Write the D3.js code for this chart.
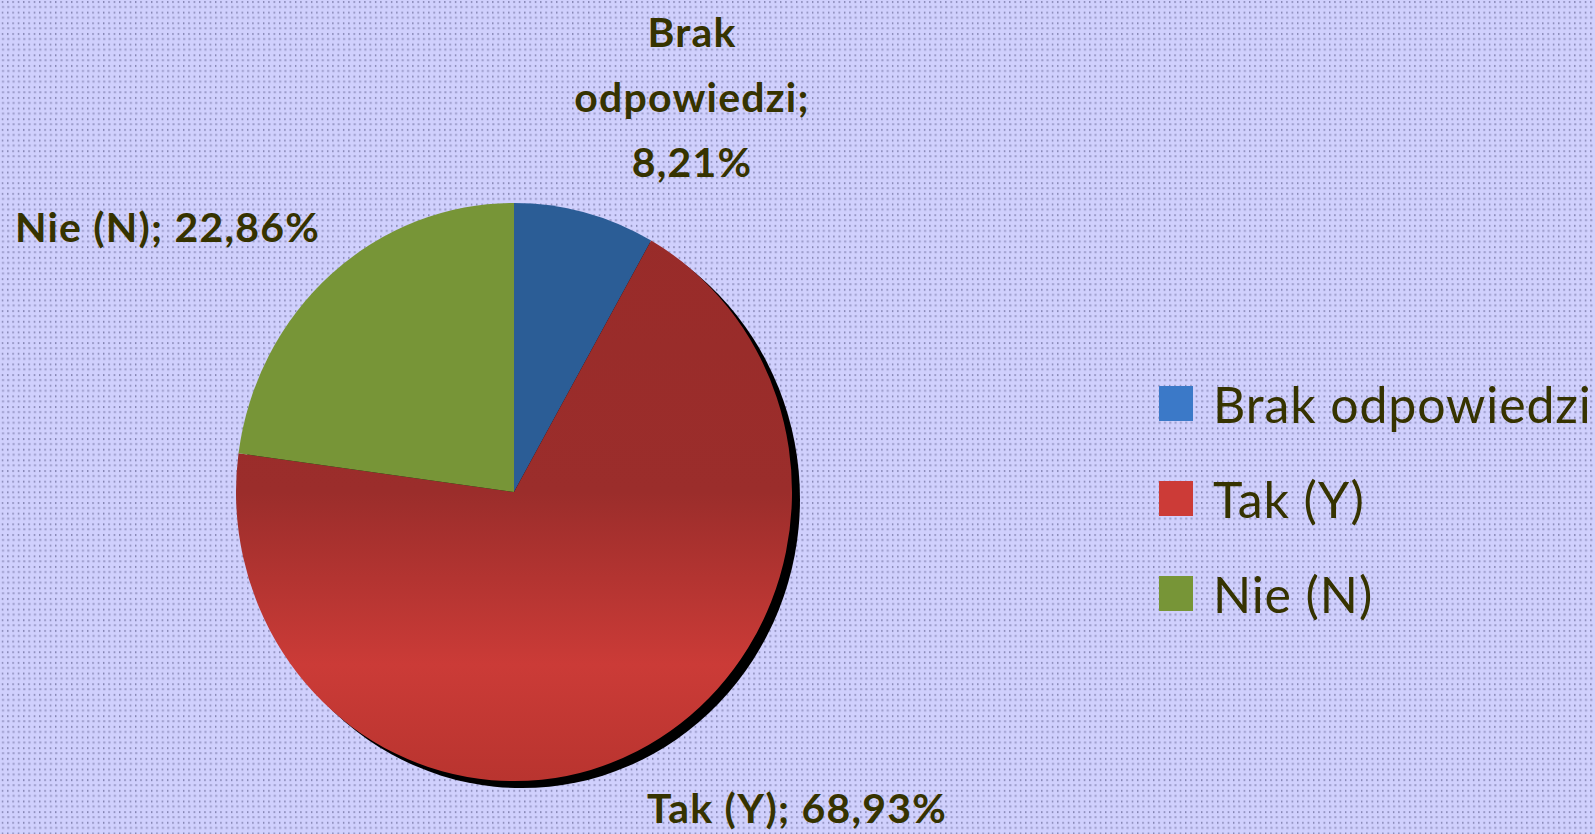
<!DOCTYPE html>
<html>
<head>
<meta charset="utf-8">
<script src="https://cdn.jsdelivr.net/npm/d3@7"></script>
<style>
  html, body { margin: 0; padding: 0; overflow: hidden; }
  body { background: #cfcffc; }
  .label { font-family: Lato, "Open Sans", sans-serif; font-weight: bold; fill: #363300; letter-spacing: 1.2px; }
  .legendText { font-family: Lato, "Open Sans", sans-serif; fill: #363300; letter-spacing: 0.9px; }
</style>
</head>
<body>
<div id="chart"></div>
<script>
// chart data
var categories = ["Brak odpowiedzi", "Tak (Y)", "Nie (N)"];
var values = [8.21, 68.93, 22.86];
var labelText = ["Brak odpowiedzi;", "Tak (Y); 68,93%", "Nie (N); 22,86%"];
var colors = ["#2b5d96", "url(#redGrad)", "#779537"];
var legendColors = ["#3b79c8", "#cc3b37", "#779537"];

var svgWidth = 1595;
var svgHeight = 834;

var svg = d3.select("#chart")
    .append("svg")
    .attr("width", svgWidth)
    .attr("height", svgHeight);

var defs = svg.append("defs");

// dotted background
var pat = defs.append("pattern")
    .attr("id", "dots")
    .attr("patternUnits", "userSpaceOnUse")
    .attr("width", 5.33)
    .attr("height", 10.66);
pat.append("rect").attr("width", 5.33).attr("height", 10.66).attr("fill", "#d0d0fd");
pat.append("rect").attr("x", 2).attr("y", 1).attr("width", 1).attr("height", 2).attr("fill", "#6a6a98");
pat.append("rect").attr("x", 2).attr("y", 6).attr("width", 2).attr("height", 2).attr("fill", "#9a9ac8");

svg.append("rect")
    .attr("width", svgWidth)
    .attr("height", svgHeight)
    .attr("fill", "url(#dots)");

// red slice gradient
var grad = defs.append("linearGradient")
    .attr("id", "redGrad")
    .attr("gradientUnits", "userSpaceOnUse")
    .attr("x1", 0).attr("y1", -277)
    .attr("x2", 0).attr("y2", 277);
grad.append("stop").attr("offset", "0%").attr("stop-color", "#982b29");
grad.append("stop").attr("offset", "50%").attr("stop-color", "#9b2d2b");
grad.append("stop").attr("offset", "80%").attr("stop-color", "#cb3b37");
grad.append("stop").attr("offset", "100%").attr("stop-color", "#b9342f");

var radius = 278;
var cx = 514, cy = 492;

var pie = d3.pie().sort(null).value(d => d);
var arc = d3.arc().innerRadius(0).outerRadius(radius);
var arcs = pie(values);

// shadow
svg.append("g")
    .attr("transform", `translate(${cx + 8}, ${cy + 7}) scale(1, 1.04)`)
    .append("circle")
    .attr("r", radius)
    .attr("fill", "#000");

var pieGroup = svg.append("g")
    .attr("transform", `translate(${cx}, ${cy}) scale(1, 1.04)`);

pieGroup.selectAll("path")
    .data(arcs)
    .enter()
    .append("path")
    .attr("d", arc)
    .attr("fill", (d, i) => colors[i]);

// data labels
var brak = svg.append("text")
    .attr("class", "label")
    .attr("font-size", 41)
    .attr("text-anchor", "middle");
brak.append("tspan").attr("x", 692).attr("y", 47).text("Brak");
brak.append("tspan").attr("x", 692).attr("y", 112).text("odpowiedzi;");
brak.append("tspan").attr("x", 692).attr("y", 177).text(values[0].toFixed(2).replace(".", ",") + "%");

svg.append("text")
    .attr("class", "label")
    .attr("font-size", 41)
    .attr("x", 15)
    .attr("y", 242)
    .text(labelText[2]);

svg.append("text")
    .attr("class", "label")
    .attr("font-size", 41)
    .attr("x", 647)
    .attr("y", 823)
    .text(labelText[1]);

// legend
var legend = svg.selectAll("g.legend")
    .data(categories)
    .enter()
    .append("g")
    .attr("class", "legend")
    .attr("transform", (d, i) => `translate(1159, ${386 + i * 95})`);

legend.append("rect")
    .attr("width", 34)
    .attr("height", 35)
    .attr("fill", (d, i) => legendColors[i]);

legend.append("text")
    .attr("class", "legendText")
    .attr("x", 54)
    .attr("y", 37)
    .attr("font-size", 50)
    .text(d => d);
</script>
</body>
</html>
